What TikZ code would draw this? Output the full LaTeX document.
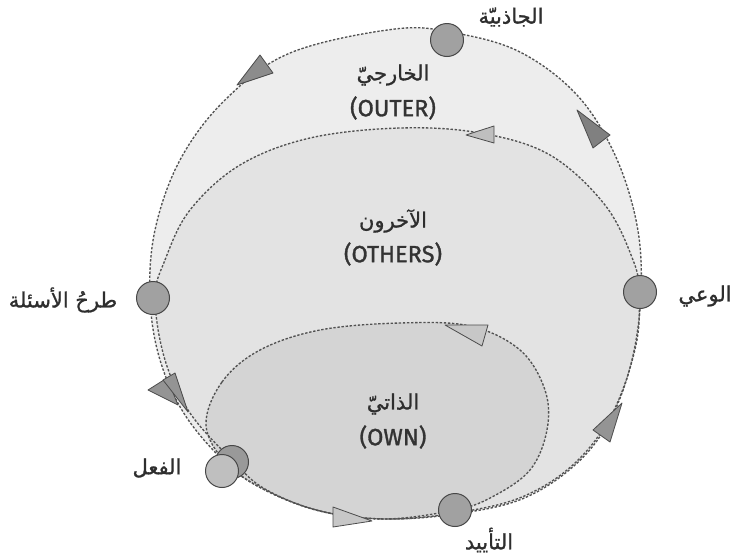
\documentclass[tikz,border=0pt]{standalone}
\usepackage{fontspec}
\setmainfont{Fira Sans}[FakeBold=1.3]
\newfontfamily\arabicfont[Script=Arabic,FakeBold=1.0]{DejaVu Sans}
\TeXXeTstate=1
\begin{document}
\begin{tikzpicture}[x=1pt,y=-1pt,
  loopline/.style={draw=black!68, line width=1.35pt, dash pattern=on 2.4pt off 1.7pt},
  marker/.style={circle, draw=black!72, line width=1pt, fill=black!37, minimum size=33pt, inner sep=0pt},
  tri/.style={draw=black!70, line width=0.8pt, line join=round},
  arlabel/.style={font=\arabicfont\fontsize{21}{24}\selectfont, text=black!82},
  latlabel/.style={font=\fontsize{23.5}{27}\selectfont, text=black!80}]
\useasboundingbox (0,0) rectangle (734,555);
\fill[white] (0,0) rectangle (734,555);
% regions
\def\outerpath{plot[smooth cycle, tension=0.6] coordinates {(395,29) (455,33) (520,52) (577,95) (615,155) (637,225) (641,292) (632,360) (610,420) (575,465) (522,499) (455,514) (385,519) (320,511) (265,490) (226,463) (185,415) (160,360) (150,298) (155,230) (180,160) (225,100) (290,53)}}
\def\middlepath{plot[smooth cycle, tension=0.6] coordinates {(155,298) (165,260) (190,210) (240,165) (310,138) (400,128) (480,133) (550,155) (605,205) (633,260) (639,292) (636,345) (613,412) (575,463) (522,497) (455,513) (385,519) (320,511) (265,489) (233,461) (190,413) (165,360)}}
\def\innerpath{plot[smooth cycle, tension=0.6] coordinates {(206,425) (222,382) (260,350) (320,330) (400,323) (470,326) (520,350) (545,390) (547,430) (530,470) (492,497) (455,510) (385,519) (320,511) (265,490) (226,463)}}
\fill[black!7] \outerpath;
\fill[black!11] \middlepath;
\fill[black!17] \innerpath;
\draw[loopline] \outerpath;
\draw[loopline] \middlepath;
\draw[loopline] \innerpath;
% arrow triangles
\draw[tri, fill=black!45] (237,85) -- (260,55) -- (273,73) -- cycle;
\draw[tri, fill=black!50] (577,110) -- (610,135) -- (593,148) -- cycle;
\draw[tri, fill=black!25] (466,135) -- (494,126) -- (494,143) -- cycle;
\draw[tri, fill=black!22] (445,325) -- (488,325) -- (482,346) -- cycle;
\draw[tri, fill=black!22] (333,507) -- (333,527) -- (372,521) -- cycle;
\draw[tri, fill=black!42] (622,403) -- (593,430) -- (610,442) -- cycle;
\draw[tri, fill=black!42] (148,390) -- (167,378) -- (178,405) -- cycle;
\draw[tri, fill=black!42] (163,380) -- (175,373) -- (188,412) -- cycle;
% markers
\node[marker] (jad) at (447,40) {};
\node[marker] (ask) at (153,298) {};
\node[marker] (wai) at (640,292) {};
\node[marker] (tay) at (455,510) {};
\node[marker, fill=black!40] (fia) at (232,462) {};
\node[marker, fill=black!25] (fib) at (222,471) {};
% labels
\node[arlabel] (tjad) at (511,17) {\beginR الجاذبيّة\endR};
\node[arlabel] (touter) at (393,75) {\beginR الخارجيّ\endR};
\node[latlabel] (touterl) at (393,108) {(OUTER)};
\node[arlabel] (tothers) at (393,221) {\beginR الآخرون\endR};
\node[latlabel] (tothersl) at (393,254) {(OTHERS)};
\node[arlabel] (town) at (393,404) {\beginR الذاتيّ\endR};
\node[latlabel] (townl) at (393,437) {(OWN)};
\node[arlabel] (task) at (63,300) {\beginR طرحُ الأسئلة\endR};
\node[arlabel] (twai) at (705,296) {\beginR الوعي\endR};
\node[arlabel] (tfia) at (157,468) {\beginR الفعل\endR};
\node[arlabel] (ttay) at (489,540) {\beginR التأييد\endR};
\end{tikzpicture}
\end{document}
